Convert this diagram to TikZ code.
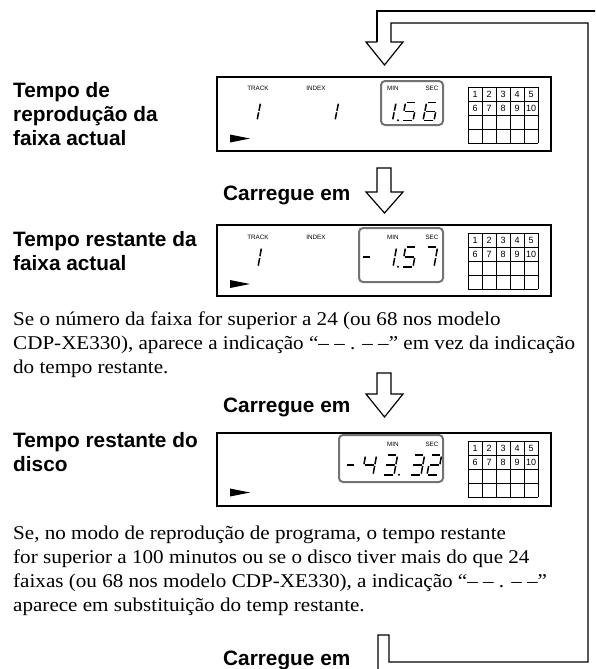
\documentclass[tikz,border=0pt]{standalone}
\usepackage{fontspec}
\setmainfont{Liberation Serif}
\newfontfamily\bodyfont[FakeStretch=1.082]{Liberation Serif}
\newfontfamily\labfont{Liberation Sans}
\tikzset{
  lbl/.style={font=\labfont\bfseries\fontsize{20.8}{24}\selectfont, anchor=base west, inner sep=0pt},
  body/.style={font=\bodyfont\fontsize{19.5}{24}\selectfont, anchor=base west, inner sep=0pt},
  tinylbl/.style={font=\labfont\fontsize{6.3}{7}\selectfont, inner sep=0pt},
  gridnum/.style={font=\labfont\fontsize{9}{10}\selectfont, inner sep=0pt},
  dispbox/.style={draw, line width=1.5pt},
  lcdframe/.style={draw=black!55, line width=2pt, rounded corners=4pt},
  seg/.style={line width=1.5pt},
  flow/.style={draw, line width=1.2pt, line join=miter},
  gridline/.style={line width=0.7pt},
}
\def\sga{\draw[seg] (1.2,-18)--(9.8,-18);}
\def\sgb{\draw[seg] (11,-16.8)--(11,-9.8);}
\def\sgc{\draw[seg] (11,-8.2)--(11,-1.2);}
\def\sgd{\draw[seg] (1.2,0)--(9.8,0);}
\def\sge{\draw[seg] (0,-1.2)--(0,-8.2);}
\def\sgf{\draw[seg] (0,-9.8)--(0,-16.8);}
\def\sgg{\draw[seg] (1.2,-9)--(9.8,-9);}
\def\dsc{1}
\newcommand\lcddigit[3]{%
  \begin{scope}[shift={(#1,#2)}, yscale=\dsc, xslant=0.2]
    \foreach \s in {#3}{\csname sg\s\endcsname}
  \end{scope}}
\newcommand\numgrid[3]{%
  \foreach \i in {0,...,5}{\draw[gridline] (#1+14*\i,#2) -- (#1+14*\i,#2+56);}
  \foreach \i in {0,...,4}{\draw[gridline] (#1,#2+14*\i) -- (#1+70,#2+14*\i);}
  \foreach \n [count=\k from 0] in {1,...,5}{\node[gridnum] (#3n\n) at (#1+7+14*\k,#2+7.5) {\n};}
  \foreach \n [count=\k from 0] in {6,...,10}{\node[gridnum] (#3n\n) at (#1+7+14*\k,#2+21.5) {\n};}
}
\begin{document}
\begin{tikzpicture}[x=1pt,y=-1pt]
\useasboundingbox (0,0) rectangle (595,669);
\clip (0,0) rectangle (595,669);

% loop arrow
\draw[flow] (377,42) -- (366,42) -- (384.5,65) -- (403,42) -- (391,42) -- (391,23) -- (588,23) -- (588,662) -- (389,662) -- (389,635) -- (378,635) -- (378,690);
\draw[flow] (377,42) -- (377,11) -- (610,11);

% arrows
\draw[flow] (377,168) -- (391,168) -- (391,192) -- (403,192) -- (384.5,213) -- (366,192) -- (377,192) -- cycle;
\draw[flow] (377,373) -- (391,373) -- (391,394) -- (403,394) -- (384.5,417) -- (366,394) -- (377,394) -- cycle;

% labels
\node[lbl] (l1a) at (13,97) {Tempo de};
\node[lbl] (l1b) at (13,121) {reprodução da};
\node[lbl] (l1c) at (13,145) {faixa actual};
\node[lbl] (l2a) at (13,246) {Tempo restante da};
\node[lbl] (l2b) at (13,270) {faixa actual};
\node[lbl] (l3a) at (13,447) {Tempo restante do};
\node[lbl] (l3b) at (13,471) {disco};
\node[lbl] (cr1) at (223,200) {Carregue em};
\node[lbl] (cr2) at (223,412) {Carregue em};
\node[lbl] (cr3) at (223,665) {Carregue em};

% body text
\node[body] (b1) at (13,325) {Se o número da faixa for superior a 24 (ou 68 nos modelo};
\node[body] (b2) at (13,349) {CDP-XE330), aparece a indicação “– – . – –” em vez da indicação};
\node[body] (b3) at (13,373) {do tempo restante.};
\node[body] (c1) at (13,539) {Se, no modo de reprodução de programa, o tempo restante};
\node[body] (c2) at (13,563) {for superior a 100 minutos ou se o disco tiver mais do que 24};
\node[body] (c3) at (13,587) {faixas (ou 68 nos modelo CDP-XE330), a indicação “– – . – –”};
\node[body] (c4) at (13,611) {aparece em substituição do temp restante.};

% display 1
\draw[dispbox] (217,77) rectangle (551,151);
\draw[lcdframe] (381,81) rectangle (443,125);
\node[tinylbl] (t1) at (258,88) {TRACK};
\node[tinylbl] (i1) at (316,88) {INDEX};
\node[tinylbl] (m1) at (393,88) {MIN};
\node[tinylbl] (s1) at (432,88) {SEC};
\fill (230,134.5) -- (250,138.5) -- (230,142.5) -- cycle;
\numgrid{468}{87}{a}
\def\dsc{1}
\lcddigit{246}{120.5}{b,c}
\lcddigit{324}{120.5}{b,c}
\lcddigit{381.5}{120.5}{b,c}
\fill (398,120.3) circle (1.1pt);
\lcddigit{402}{120.5}{a,f,g,c,d}
\lcddigit{423}{120.5}{a,f,e,g,c,d}

% display 2
\draw[dispbox] (217,225) rectangle (551,296);
\draw[lcdframe] (359,228) rectangle (443,282);
\node[tinylbl] (t2) at (258,237) {TRACK};
\node[tinylbl] (i2) at (316,237) {INDEX};
\node[tinylbl] (m2) at (393,237) {MIN};
\node[tinylbl] (s2) at (432,237) {SEC};
\fill (230,280) -- (250,284) -- (230,288) -- cycle;
\numgrid{468}{233}{b}
\def\dsc{1.1}
\lcddigit{247}{267}{b,c}
\draw[line width=1.8pt] (363,257) -- (370,257);
\lcddigit{382}{267}{b,c}
\fill (398,266.8) circle (1.1pt);
\lcddigit{402}{267}{a,f,g,c,d}
\lcddigit{423}{267}{a,b,c}

% display 3
\draw[dispbox] (217,433) rectangle (551,506);
\draw[lcdframe] (339,435) rectangle (443,482);
\node[tinylbl] (m3) at (393,444) {MIN};
\node[tinylbl] (s3) at (432,444) {SEC};
\fill (230,488.5) -- (250,492.5) -- (230,496.5) -- cycle;
\numgrid{468}{441}{c}
\def\dsc{1.1}
\draw[line width=1.8pt] (347,465) -- (354,465);
\lcddigit{362}{475}{f,g,b,c}
\lcddigit{383}{475}{a,b,g,c,d}
\fill (399,474.8) circle (1.1pt);
\lcddigit{410}{475}{a,b,g,c,d}
\lcddigit{427}{475}{a,b,g,e,d}
\end{tikzpicture}
\end{document}
